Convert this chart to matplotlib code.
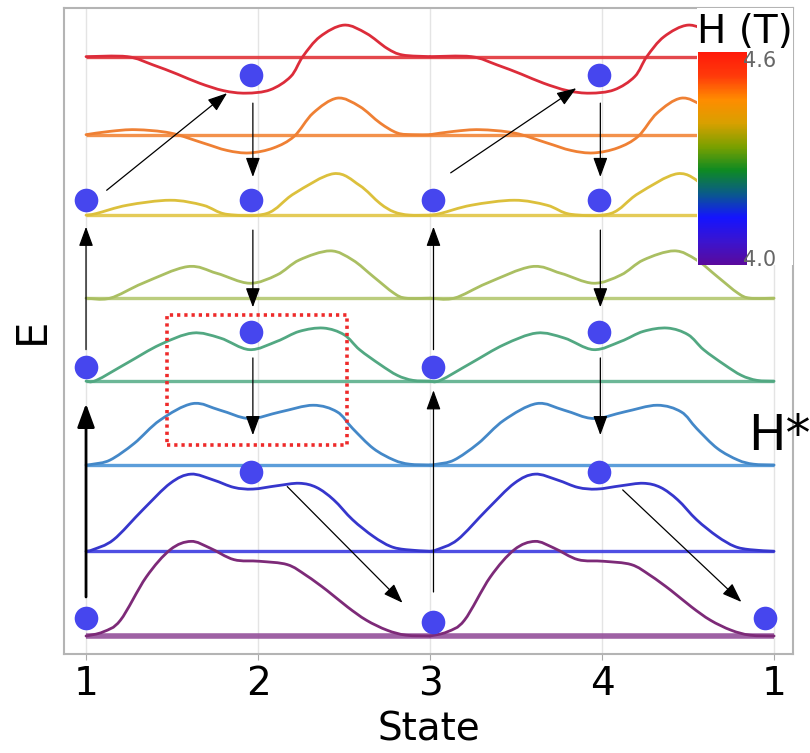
import numpy as np
import matplotlib
matplotlib.use("Agg")
import matplotlib.pyplot as plt
from matplotlib.colors import LinearSegmentedColormap, Normalize
from matplotlib.cm import ScalarMappable
from matplotlib.patches import Rectangle, PathPatch
from matplotlib.path import Path

# ---------------- data ----------------
state_ticks = [0, 1, 2, 3, 4]
state_labels = ["1", "2", "3", "4", "1"]
field_min, field_max = 4.0, 4.6

# baseline energy of each field level (bottom -> top)
baselines = [0.0, 1.02, 2.06, 3.07, 4.07, 5.07, 6.04, 6.98]
level_colors = ["#7d2a78", "#3636cc", "#4488c8", "#52a882",
                "#aabf62", "#dcc03c", "#ef8034", "#dc2c3a"]
baseline_colors = ["#94509a", "#3c3ce0", "#4a94d6", "#5cb08c",
                   "#b4c870", "#e2c646", "#f28638", "#e23438"]

# one period of each energy landscape (state 1 -> state 3), repeated for 3 -> 1
curve0_x = [0.0, 0.10, 0.20, 0.35, 0.49, 0.61, 0.72, 0.86, 1.01, 1.17, 1.28, 1.40, 1.52, 1.63, 1.75, 1.86, 2.0]
curve0_y = [0.0, 0.05, 0.19, 0.71, 1.04, 1.14, 1.06, 0.92, 0.90, 0.86, 0.73, 0.55, 0.35, 0.19, 0.07, 0.01, 0.0]
curve1_x = [0.0, 0.04, 0.16, 0.33, 0.49, 0.61, 0.74, 0.86, 0.97, 1.11, 1.24, 1.34, 1.44, 1.55, 1.67, 1.77, 1.86, 2.0]
curve1_y = [1.02, 1.04, 1.16, 1.52, 1.84, 1.95, 1.88, 1.79, 1.77, 1.81, 1.84, 1.79, 1.64, 1.40, 1.20, 1.08, 1.04, 1.02]
curve2_x = [0.0, 0.04, 0.14, 0.28, 0.43, 0.62, 0.78, 0.95, 1.13, 1.32, 1.46, 1.55, 1.67, 1.79, 1.88, 2.0]
curve2_y = [2.06, 2.07, 2.12, 2.32, 2.60, 2.80, 2.72, 2.62, 2.70, 2.78, 2.70, 2.50, 2.26, 2.12, 2.07, 2.06]
curve3_x = [0.0, 0.06, 0.24, 0.43, 0.62, 0.78, 0.95, 1.11, 1.24, 1.38, 1.50, 1.59, 1.71, 1.81, 1.90, 2.0]
curve3_y = [3.07, 3.08, 3.29, 3.51, 3.65, 3.59, 3.45, 3.55, 3.67, 3.71, 3.63, 3.45, 3.27, 3.14, 3.08, 3.07]
curve4_x = [0.0, 0.14, 0.33, 0.59, 0.76, 0.95, 1.11, 1.24, 1.42, 1.55, 1.67, 1.79, 1.86, 2.0]
curve4_y = [4.07, 4.07, 4.25, 4.45, 4.37, 4.25, 4.35, 4.53, 4.64, 4.53, 4.33, 4.13, 4.07, 4.07]
curve5_x = [0.0, 0.06, 0.24, 0.49, 0.68, 0.82, 1.05, 1.21, 1.44, 1.59, 1.71, 1.79, 1.88, 2.0]
curve5_y = [5.07, 5.09, 5.19, 5.25, 5.19, 5.08, 5.09, 5.33, 5.57, 5.43, 5.21, 5.11, 5.07, 5.07]
curve6_x = [0.0, 0.14, 0.29, 0.49, 0.68, 0.82, 0.95, 1.09, 1.21, 1.32, 1.46, 1.59, 1.71, 1.81, 1.90, 2.0]
curve6_y = [6.04, 6.08, 6.10, 6.06, 5.94, 5.85, 5.82, 5.88, 6.02, 6.30, 6.48, 6.38, 6.18, 6.06, 6.04, 6.04]
curve7_x = [0.0, 0.24, 0.39, 0.53, 0.66, 0.80, 0.93, 1.07, 1.19, 1.26, 1.36, 1.50, 1.63, 1.75, 1.84, 2.0]
curve7_y = [6.98, 6.98, 6.88, 6.77, 6.66, 6.57, 6.54, 6.58, 6.74, 6.98, 7.22, 7.36, 7.26, 7.08, 7.00, 6.98]
curves_x = [curve0_x, curve1_x, curve2_x, curve3_x, curve4_x, curve5_x, curve6_x, curve7_x]
curves_y = [curve0_y, curve1_y, curve2_y, curve3_y, curve4_y, curve5_y, curve6_y, curve7_y]

# occupied states (blue dots)
dots_x = [0.0, 2.02, 3.95, 0.96, 2.98, 0.0, 2.02, 0.96, 2.98,
          0.0, 0.96, 2.02, 2.98, 0.96, 2.98]
dots_y = [0.22, 0.17, 0.22, 1.98, 1.98, 3.24, 3.24, 3.66, 3.66,
          5.25, 5.25, 5.25, 5.25, 6.76, 6.76]

# transitions (tail -> head)
arrow_x0 = [0.0, 0.0, 2.02, 2.02, 0.97, 0.97, 0.97, 2.99, 2.99, 2.99, 0.12, 2.12, 1.17, 3.12]
arrow_y0 = [0.47, 3.45, 0.53, 3.45, 6.42, 4.89, 3.35, 6.42, 4.89, 3.35, 5.37, 5.58, 1.80, 1.76]
arrow_x1 = [0.0, 0.0, 2.02, 2.02, 0.97, 0.97, 0.97, 2.99, 2.99, 2.99, 0.82, 2.85, 1.84, 3.81]
arrow_y1 = [2.80, 4.93, 2.96, 4.93, 5.53, 3.96, 2.42, 5.53, 3.96, 2.42, 6.54, 6.60, 0.40, 0.41]
arrow_lw = [2.0, 0.9, 0.9, 0.9, 0.9, 0.9, 0.9, 0.9, 0.9, 0.9, 0.9, 0.9, 0.9, 0.9]

# highlighted region
box_x = [0.47, 1.52]
box_y = [2.30, 3.87]

# colorbar colours (bottom -> top)
cbar_colors = ["#5a0a9c", "#3a14d0", "#1414ff", "#0a5a8a", "#0e8a22",
               "#7aa000", "#d8a000", "#ff8c00", "#ff3a0a", "#ff1a0a"]


def smooth_path(xs, ys):
    """Smooth (Catmull-Rom style Bezier) path through the given points."""
    p = np.column_stack([xs, ys]).astype(float)
    ext = np.vstack([p[0], p, p[-1]])
    verts = [p[0]]
    codes = [Path.MOVETO]
    for i in range(len(p) - 1):
        p0, p1, p2, p3 = ext[i], ext[i + 1], ext[i + 2], ext[i + 3]
        c1 = p1 + (p2 - p0) / 6.0
        c2 = p2 - (p3 - p1) / 6.0
        verts += [c1, c2, p2]
        codes += [Path.CURVE4] * 3
    return Path(verts, codes)


# ---------------- figure ----------------
W, H = 810, 753
fig = plt.figure(figsize=(W / 100, H / 100), dpi=100)
ax = fig.add_axes([64 / W, 1 - 654 / H, (793 - 64) / W, (654 - 8) / H])
ax.set_xlim(-0.128, 4.11)
ax.set_ylim(-0.217, 7.566)

for i in range(len(baselines)):
    lw_base = 4.0 if i == 0 else 2.4
    ax.plot([state_ticks[0], state_ticks[-1]], [baselines[i], baselines[i]],
            color=baseline_colors[i], lw=lw_base, alpha=0.9, zorder=2,
            solid_capstyle="butt")
    cx = np.array(curves_x[i])
    cy = np.array(curves_y[i])
    for shift in (0, 2):
        ax.add_patch(PathPatch(smooth_path(cx + shift, cy), fill=False,
                               ec=level_colors[i], lw=2.0, zorder=3,
                               joinstyle="round", capstyle="round"))

ax.plot(dots_x, dots_y, "o", color="#4646ee", ms=17, mec="none", zorder=5)

for x0, y0, x1, y1, lw in zip(arrow_x0, arrow_y0, arrow_x1, arrow_y1, arrow_lw):
    ms = 24 if lw > 1.5 else 20
    ax.annotate("", xy=(x1, y1), xytext=(x0, y0),
                arrowprops=dict(arrowstyle="-|>,head_length=0.6,head_width=0.22",
                                color="k", lw=lw, shrinkA=0, shrinkB=0,
                                mutation_scale=ms),
                zorder=6)

ax.add_patch(Rectangle((box_x[0], box_y[0]), box_x[1] - box_x[0], box_y[1] - box_y[0],
                       fill=False, ec="#ee2a2a", lw=2.6, ls=(0, (0.9, 1.1)), zorder=6))

# white area behind the colorbar
ax.add_patch(Rectangle((3.55, 4.47), 0.6, 3.2, fc="white", ec="none", zorder=8))

ax.set_xticks(state_ticks)
ax.set_xticklabels(state_labels, fontsize=28)
ax.set_yticks([])
ax.tick_params(axis="x", length=4, color="#aaaaaa", pad=4)
ax.grid(axis="x", color="#e4e4e4", lw=1.0, zorder=0)
ax.set_axisbelow(True)
for sp in ax.spines.values():
    sp.set_color("#b4b4b4")
    sp.set_linewidth(1.5)
ax.set_xlabel("State", fontsize=28, labelpad=5)
ax.set_ylabel("E", fontsize=30, labelpad=8)

# colorbar
cmap = LinearSegmentedColormap.from_list("field", cbar_colors)
cax = fig.add_axes([698 / W, 1 - 265 / H, (747 - 698) / W, (265 - 52) / H])
cb = fig.colorbar(ScalarMappable(norm=Normalize(field_min, field_max), cmap=cmap),
                  cax=cax, ticks=[4.02, 4.58])
cb.set_ticklabels(["4.0", "4.6"])
cb.outline.set_visible(False)
cax.tick_params(length=0, labelsize=15, labelcolor="#666666", pad=-3)

fig.text(697 / W, 1 - 43 / H, "H (T)", fontsize=28, ha="left", va="baseline")
fig.text(748 / W, 1 - 450 / H, "H*", fontsize=36, ha="left", va="baseline")

fig.savefig("out.png", dpi=100)
